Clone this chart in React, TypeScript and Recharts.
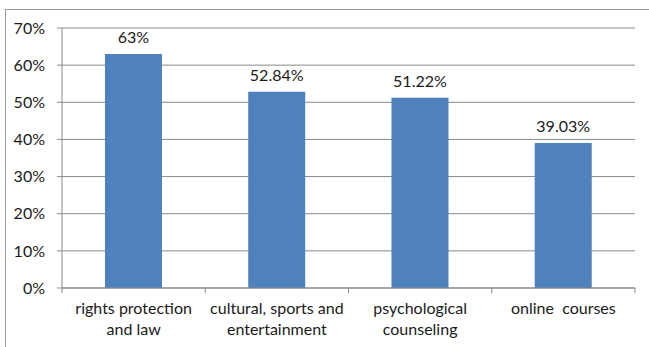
import React from "react";
import { BarChart, Bar, XAxis, YAxis, CartesianGrid, LabelList } from "recharts";

// Service categories (line breaks mark where each axis label wraps)
const categories = [
  "rights protection\nand law",
  "cultural, sports and\nentertainment",
  "psychological\ncounseling",
  "online  courses",
];

// Share of respondents per category, in percent
const shares = [63, 52.84, 51.22, 39.03];

// Value labels shown above each bar
const valueLabels = ["63%", "52.84%", "51.22%", "39.03%"];

// Percent ticks on the value axis
const yTicks = [0, 10, 20, 30, 40, 50, 60, 70];

const data = categories.map((name, i) => ({
  name,
  share: shares[i],
  label: valueLabels[i],
}));

const FONT = "Lato, Carlito, Calibri, sans-serif";
const FONT_SIZE = 16;
const GRAY = "#898989";
const TEXT = "#1a1a1a";

// Category label plus small tick marks on the band edges
const CategoryTick = (props: any) => {
  const { x, y, payload, index, visibleTicksCount } = props;
  const half = payload.offset ?? 0;
  const lines = String(payload.value).split("\n");
  const isLast = index === (visibleTicksCount ?? categories.length) - 1;
  const axisY = y - 2;
  return (
    <g>
      <line x1={x - half} x2={x - half} y1={axisY} y2={axisY + 5} stroke={GRAY} />
      {isLast && (
        <line x1={x + half} x2={x + half} y1={axisY} y2={axisY + 5} stroke={GRAY} />
      )}
      <text
        x={x}
        y={axisY}
        textAnchor="middle"
        fill={TEXT}
        fontFamily={FONT}
        fontSize={FONT_SIZE}
        style={{ whiteSpace: "pre" }}
      >
        {lines.map((ln, i) => (
          <tspan key={i} x={x} dy={i === 0 ? 26 : 21}>
            {ln}
          </tspan>
        ))}
      </text>
    </g>
  );
};

export default function App() {
  return (
    <div
      style={{
        position: "absolute",
        left: 0,
        top: 0,
        width: 649,
        height: 347,
        overflow: "hidden",
        background: "#fff",
      }}
    >
      <div
        style={{
          position: "absolute",
          left: 5,
          top: 9,
          width: 700,
          height: 400,
          borderLeft: "1px solid #9a9a9a",
          borderTop: "1px solid #9a9a9a",
        }}
      />
      <div style={{ position: "absolute", left: 0, top: 0 }}>
        <BarChart
          width={649}
          height={347}
          data={data}
          margin={{ top: 28, right: 14, bottom: 0, left: 0 }}
          barCategoryGap="30%"
        >
          <CartesianGrid vertical={false} stroke={GRAY} strokeWidth={1} />
          <XAxis
            dataKey="name"
            height={59}
            interval={0}
            tickLine={false}
            tickSize={0}
            tickMargin={2}
            axisLine={{ stroke: GRAY }}
            tick={<CategoryTick />}
          />
          <YAxis
            width={62}
            domain={[0, 70]}
            ticks={yTicks}
            interval={0}
            tickFormatter={(v: number) => `${v}%`}
            axisLine={{ stroke: GRAY }}
            tickLine={{ stroke: GRAY }}
            tickSize={5}
            tickMargin={12}
            tick={{ fill: TEXT, fontFamily: FONT, fontSize: FONT_SIZE }}
          />
          <Bar dataKey="share" fill="#4f81bd" isAnimationActive={false}>
            <LabelList
              dataKey="label"
              position="top"
              offset={11}
              fill={TEXT}
              fontFamily={FONT}
              fontSize={FONT_SIZE}
            />
          </Bar>
        </BarChart>
      </div>
    </div>
  );
}
